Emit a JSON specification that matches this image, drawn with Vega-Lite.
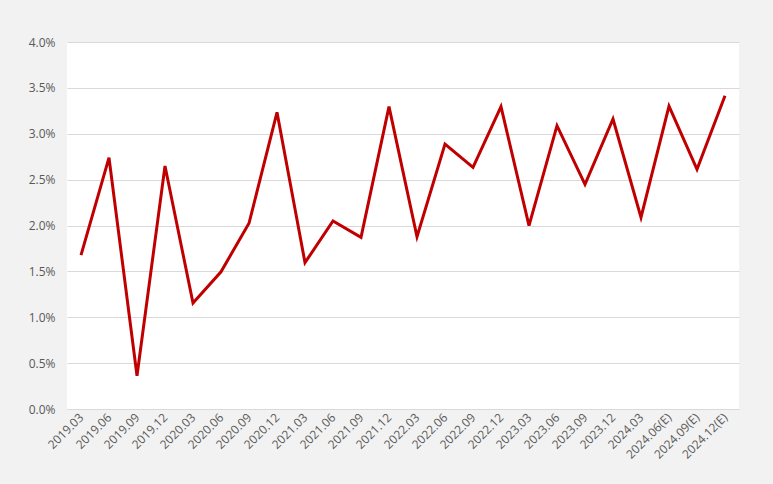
{
  "$schema": "https://vega.github.io/schema/vega-lite/v6.json",
  "width": 672,
  "height": 367,
  "autosize": {"type": "none"},
  "padding": {"left": 67, "top": 42, "right": 34, "bottom": 75},
  "background": "#f2f2f2",
  "config": {
    "view": {"fill": "white", "stroke": null},
    "font": "Open Sans",
    "axis": {"labelFont": "Open Sans", "labelFontSize": 12, "labelColor": "#595959"}
  },
  "data": {
    "values": [
      {"period": "2019.03", "rate": 0.01678},
      {"period": "2019.06", "rate": 0.02739},
      {"period": "2019.09", "rate": 0.00363},
      {"period": "2019.12", "rate": 0.02648},
      {"period": "2020.03", "rate": 0.01155},
      {"period": "2020.06", "rate": 0.01496},
      {"period": "2020.09", "rate": 0.02024},
      {"period": "2020.12", "rate": 0.03234},
      {"period": "2021.03", "rate": 0.01595},
      {"period": "2021.06", "rate": 0.02049},
      {"period": "2021.09", "rate": 0.01871},
      {"period": "2021.12", "rate": 0.03295},
      {"period": "2022.03", "rate": 0.01878},
      {"period": "2022.06", "rate": 0.02888},
      {"period": "2022.09", "rate": 0.02634},
      {"period": "2022.12", "rate": 0.03295},
      {"period": "2023.03", "rate": 0.01998},
      {"period": "2023.06", "rate": 0.03088},
      {"period": "2023.09", "rate": 0.02449},
      {"period": "2023.12", "rate": 0.03161},
      {"period": "2024.03", "rate": 0.02089},
      {"period": "2024.06(E)", "rate": 0.03302},
      {"period": "2024.09(E)", "rate": 0.02613},
      {"period": "2024.12(E)", "rate": 0.03415}
    ]
  },
  "mark": {"type": "line", "color": "#c00000", "strokeWidth": 3, "strokeJoin": "miter"},
  "encoding": {
    "x": {
      "field": "period",
      "type": "ordinal",
      "sort": null,
      "scale": {"type": "point", "padding": 0.5},
      "axis": {
        "title": null,
        "labelAngle": -45,
        "labelAlign": "right",
        "labelBaseline": "middle",
        "labelPadding": 6,
        "ticks": false,
        "domain": true,
        "domainColor": "#d9d9d9",
        "domainWidth": 1,
        "grid": false
      }
    },
    "y": {
      "field": "rate",
      "type": "quantitative",
      "scale": {"domain": [0, 0.04], "nice": false},
      "axis": {
        "title": null,
        "format": ".1%",
        "values": [0, 0.005, 0.01, 0.015, 0.02, 0.025, 0.03, 0.035, 0.04],
        "ticks": false,
        "domain": false,
        "grid": true,
        "gridColor": "#d9d9d9",
        "gridWidth": 1,
        "labelPadding": 12
      }
    }
  }
}
